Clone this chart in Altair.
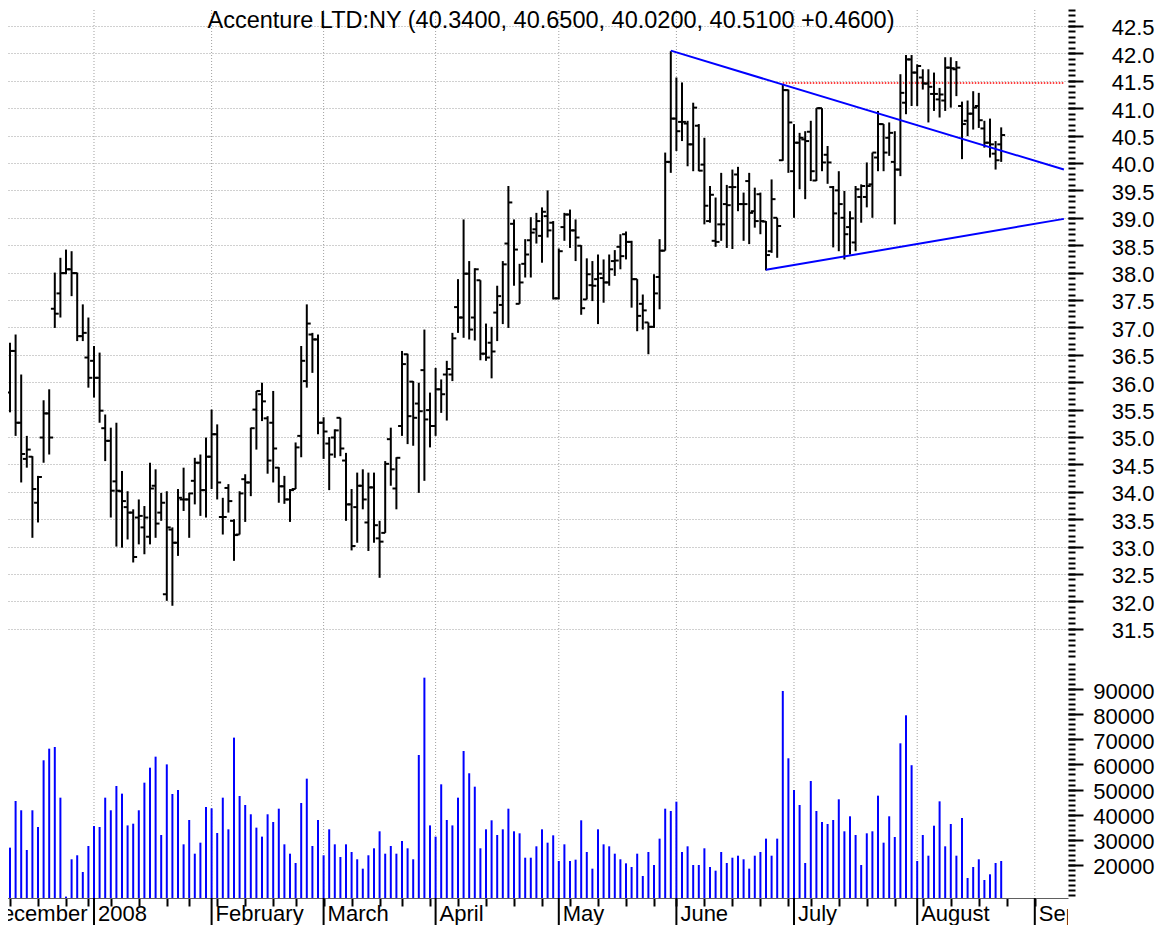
import altair as alt
import pandas as pd

FONT = "Liberation Sans"
GRID = "#a0a0a0"
BLUE = "#0000ff"
RED = "#ff0000"

TITLE = "Accenture LTD:NY (40.3400, 40.6500, 40.0200, 40.5100 +0.4600)"

# ---- daily OHLC, trading days from 10 Dec 2007 to 22 Aug 2008 ----
open_ = [
    35.81, 36.57, 35.26, 34.60, 34.64, 33.80, 34.99, 35.43, 37.34, 37.62,
    37.99, 38.06, 37.99, 36.84, 36.45, 36.39, 36.08, 35.16, 34.93, 34.19,
    34.01, 33.72, 33.62, 33.53, 33.35, 33.18, 34.11, 33.62, 32.13, 33.31,
    33.07, 33.86, 33.86, 34.20, 34.53, 34.03, 34.64, 35.05, 33.54, 34.07,
    33.47, 33.22, 34.23, 34.17, 35.50, 35.78, 35.34, 35.26, 34.44, 34.10,
    33.86, 34.05, 35.02, 36.02, 36.87, 36.78, 35.26, 34.88, 34.99, 35.35,
    34.57, 33.77, 33.72, 34.11, 33.44, 34.08, 33.15, 33.25, 34.96, 34.06,
    35.20, 36.51, 36.01, 35.61, 36.22, 35.49, 35.20, 35.87, 36.14, 36.14,
    37.37, 37.18, 37.98, 37.18, 37.86, 36.52, 36.72, 37.27, 37.41, 38.53,
    38.89, 37.43, 38.16, 38.59, 38.79, 38.67, 39.03, 38.91, 37.53, 38.83,
    39.06, 38.77, 38.49, 37.51, 37.77, 37.88, 37.90, 37.82, 38.21, 38.47,
    38.70, 38.56, 37.88, 37.43, 37.09, 37.01, 37.92, 38.40, 40.02, 40.81,
    40.75, 40.72, 40.34, 40.68, 39.97, 38.94, 38.58, 38.88, 39.25, 39.56,
    39.79, 39.25, 39.67, 39.12, 39.43, 38.93, 38.39, 39.00, 40.05, 41.33,
    39.85, 40.37, 40.43, 40.57, 39.68, 41.00, 40.15, 39.56, 39.50, 39.00,
    38.83, 38.55, 39.38, 39.38, 39.61, 40.10, 40.71, 40.46, 40.02, 39.88,
    41.10, 41.89, 41.65, 41.56, 41.45, 41.26, 41.16, 41.14, 41.74, 41.71,
    41.04, 40.77, 40.90, 41.04, 40.63, 40.37, 40.17, 40.34,
]
high = [
    36.72, 36.87, 36.14, 35.02, 34.65, 34.29, 35.67, 35.87, 38.00, 38.27,
    38.42, 38.39, 38.00, 37.42, 37.18, 36.66, 36.54, 35.41, 35.17, 35.26,
    34.38, 34.01, 33.68, 33.86, 33.74, 34.53, 34.41, 33.98, 34.01, 33.35,
    34.05, 34.44, 33.98, 34.62, 34.68, 34.99, 35.50, 35.23, 33.89, 34.14,
    33.50, 34.01, 34.32, 35.17, 35.84, 35.99, 35.38, 35.84, 34.45, 34.29,
    34.05, 34.90, 36.66, 37.42, 36.90, 36.87, 35.36, 35.00, 35.14, 35.35,
    34.71, 34.05, 34.35, 34.41, 34.35, 34.35, 33.47, 34.56, 35.17, 34.63,
    36.57, 36.52, 36.02, 35.99, 36.96, 35.81, 36.26, 36.05, 36.39, 36.90,
    37.88, 38.97, 38.21, 38.08, 37.86, 37.07, 37.01, 37.76, 38.21, 39.58,
    38.97, 38.16, 38.61, 39.01, 39.09, 39.19, 39.50, 38.94, 38.44, 39.09,
    39.15, 38.97, 38.50, 38.26, 38.21, 38.33, 38.24, 38.33, 38.41, 38.70,
    38.75, 38.58, 37.88, 37.60, 37.09, 37.97, 38.61, 40.19, 42.04, 41.56,
    41.47, 40.77, 41.10, 40.71, 40.46, 39.58, 39.37, 39.82, 39.60, 39.88,
    39.93, 39.46, 39.82, 39.55, 39.46, 38.94, 39.70, 39.00, 41.44, 41.34,
    40.71, 40.55, 40.58, 40.77, 41.00, 41.00, 40.31, 39.58, 39.85, 39.49,
    39.12, 39.58, 39.61, 40.01, 40.19, 40.95, 40.71, 40.74, 40.58, 41.62,
    41.97, 41.97, 41.80, 41.71, 41.71, 41.65, 41.37, 41.93, 41.93, 41.86,
    41.12, 41.14, 41.31, 41.28, 40.77, 40.81, 40.40, 40.65,
]
low = [
    35.45, 35.02, 34.17, 34.44, 33.16, 33.44, 34.53, 34.68, 36.99, 37.18,
    37.97, 37.57, 36.75, 36.75, 35.90, 35.72, 35.26, 34.56, 33.53, 33.00,
    32.98, 33.13, 32.71, 33.04, 32.86, 33.04, 33.16, 33.47, 32.01, 31.92,
    32.83, 33.65, 33.16, 33.77, 33.56, 33.53, 34.05, 33.86, 33.22, 33.62,
    32.74, 33.22, 33.45, 33.92, 34.77, 35.29, 34.33, 34.17, 33.80, 33.78,
    33.45, 34.05, 34.63, 35.90, 36.17, 35.05, 34.60, 34.03, 34.62, 34.65,
    33.47, 32.93, 33.07, 33.68, 32.92, 33.07, 32.43, 33.25, 34.11, 33.68,
    35.02, 34.87, 34.84, 33.98, 34.20, 34.81, 35.02, 35.44, 35.30, 36.02,
    36.90, 36.81, 36.78, 36.76, 36.40, 36.39, 36.07, 36.75, 37.06, 36.99,
    37.76, 37.43, 37.91, 37.91, 38.53, 38.18, 38.64, 37.51, 37.51, 38.58,
    38.45, 38.21, 37.23, 37.51, 37.48, 37.06, 37.45, 37.76, 37.94, 38.06,
    38.24, 37.36, 36.93, 36.96, 36.51, 36.99, 37.33, 38.40, 39.82, 40.22,
    40.40, 39.94, 39.85, 39.85, 38.88, 38.91, 38.47, 38.58, 38.45, 38.43,
    39.12, 38.58, 38.52, 38.82, 38.70, 38.04, 38.36, 38.27, 40.04, 39.82,
    39.00, 39.52, 39.34, 39.67, 39.67, 39.85, 39.62, 38.46, 38.39, 38.24,
    38.33, 38.39, 38.91, 39.19, 39.00, 39.85, 39.85, 40.13, 38.88, 39.76,
    40.89, 41.04, 41.04, 41.34, 40.74, 40.95, 40.83, 40.95, 41.01, 41.22,
    40.07, 40.49, 40.61, 40.64, 40.28, 40.10, 39.88, 40.02,
]
close = [
    36.57, 35.26, 34.69, 34.77, 34.05, 34.27, 35.43, 34.99, 37.25, 37.99,
    38.06, 37.99, 36.84, 36.90, 36.08, 36.08, 35.48, 34.93, 34.02, 34.02,
    33.83, 33.62, 32.81, 33.56, 33.53, 34.06, 33.42, 33.80, 33.35, 33.07,
    33.89, 33.86, 33.97, 34.53, 34.03, 34.64, 35.05, 34.17, 33.54, 33.83,
    33.21, 33.97, 34.17, 35.16, 35.84, 35.65, 34.57, 34.79, 34.10, 33.86,
    34.03, 34.81, 36.39, 37.07, 36.78, 35.26, 35.10, 34.68, 35.12, 34.79,
    33.77, 33.01, 34.11, 33.86, 34.08, 33.39, 33.09, 34.51, 34.41, 34.62,
    36.33, 35.38, 35.35, 35.47, 35.32, 35.20, 35.87, 35.78, 36.24, 36.80,
    37.18, 37.98, 36.96, 38.06, 36.52, 36.45, 36.56, 37.57, 38.15, 39.28,
    38.42, 37.82, 38.33, 38.73, 38.94, 39.11, 38.77, 37.53, 38.39, 39.06,
    38.77, 38.64, 37.35, 37.97, 37.76, 37.98, 37.82, 38.06, 38.22, 38.30,
    38.56, 37.88, 37.21, 37.31, 37.01, 37.62, 38.40, 40.02, 40.81, 40.58,
    40.75, 40.34, 41.01, 39.86, 39.22, 39.42, 38.56, 38.88, 39.23, 39.56,
    39.25, 39.25, 39.09, 38.94, 38.94, 38.32, 39.34, 38.85, 41.33, 40.74,
    40.37, 40.46, 40.40, 39.85, 41.00, 40.01, 40.01, 39.08, 39.25, 38.70,
    38.99, 39.52, 39.58, 39.58, 40.19, 40.71, 40.19, 40.55, 39.88, 41.28,
    41.89, 41.65, 41.77, 41.45, 41.39, 41.26, 41.25, 41.74, 41.73, 41.74,
    40.71, 40.90, 41.01, 40.78, 40.37, 40.34, 40.05, 40.51,
]
volume = [
    26900, 45460, 41760, 25970, 41760, 35120, 61650, 66270, 66940, 46780,
    7430, 22270, 23860, 17210, 27560, 35510, 35120, 46780, 41760, 51430,
    48380, 35750, 36430, 41760, 52750, 58710, 63090, 31930, 60020, 48240,
    49830, 28220, 37900, 24500, 28880, 43070, 42540, 32730, 46780, 34190,
    70660, 47450, 43870, 40170, 34860, 31280, 40170, 37110, 42400, 28220,
    24500, 20800, 44660, 54340, 27560, 37900, 23860, 34190, 28220, 23180,
    28220, 25170, 22270, 18540, 23860, 26640, 33400, 24500, 27560, 24500,
    29550, 26640, 22270, 63760, 94510, 35750, 31280, 52090, 37900, 35750,
    46780, 65350, 56480, 51150, 26640, 34190, 37770, 31930, 34190, 42400,
    33400, 32600, 22900, 22900, 27430, 34190, 28880, 31800, 21590, 28220,
    21590, 22120, 37770, 25170, 18540, 34190, 28220, 27430, 24500, 22270,
    20660, 19200, 24500, 15620, 25170, 20000, 30480, 42400, 41480, 45190,
    25170, 27430, 20000, 20000, 26640, 19200, 17740, 25170, 20800, 22900,
    23700, 22270, 18540, 23700, 25170, 30480, 23700, 30480, 89220, 62440,
    49830, 43870, 20800, 53420, 41480, 37110, 36310, 37900, 46130, 33400,
    39370, 31930, 20000, 32600, 33400, 47570, 28880, 39370, 31140, 68400,
    79540, 59690, 21590, 31930, 23700, 35630, 45320, 27430, 36310, 23700,
    38690, 14830, 19200, 22270, 14030, 16300, 20800, 21590,
]

# ---- time axis (trading-day index of first session of each month) ----
month_start = [-5, 15, 36, 56, 76, 98, 119, 140, 162, 183]
month_label = ["December", "2008", "February", "March", "April", "May",
               "June", "July", "August", "September"]
week_ticks = [0, 5, 10, 14, 18, 23, 28, 32, 37, 42, 47, 51, 56, 61, 66, 70,
              75, 80, 85, 90, 95, 100, 105, 110, 115, 119, 124, 129, 134,
              139, 143, 148, 153, 158, 163, 168, 173, 178, 183]

price_labels = [31.5, 32.0, 32.5, 33.0, 33.5, 34.0, 34.5, 35.0, 35.5, 36.0,
                36.5, 37.0, 37.5, 38.0, 38.5, 39.0, 39.5, 40.0, 40.5, 41.0,
                41.5, 42.0, 42.5]
price_minor = [round(30.9 + 0.1 * k, 1) for k in range(121)]
vol_labels = [20000, 30000, 40000, 50000, 60000, 70000, 80000, 90000]
vol_minor = list(range(8000, 102000, 2000))

# ---- drawn trend lines (index, price) ----
upper_x = [118, 188.2]
upper_y = [42.05, 39.88]
lower_x = [135, 188.2]
lower_y = [38.05, 38.98]
resist_x = [138, 188.2]
resist_y = [41.46, 41.46]

VOL_FLOOR = 6870
X_DOMAIN = [-1.607, 188.93]
P_DOMAIN = [30.912, 42.956]
V_DOMAIN = [VOL_FLOOR, 101140]
W = 1067
TICK = 0.7

df = pd.DataFrame({"i": list(range(len(close))), "open": open_, "high": high,
                   "low": low, "close": close, "volume": volume})
df["xo"] = df["i"] - TICK
df["xc"] = df["i"] + TICK
df["vbase"] = VOL_FLOOR
months = pd.DataFrame({"m": month_start, "label": month_label})
tlines = pd.DataFrame({"x": upper_x + lower_x, "y": upper_y + lower_y,
                       "name": ["upper"] * 2 + ["lower"] * 2})
resist = pd.DataFrame({"x": resist_x, "y": resist_y})

xs = alt.Scale(domain=X_DOMAIN, nice=False, zero=False)
ps = alt.Scale(domain=P_DOMAIN, nice=False, zero=False)
vs = alt.Scale(domain=V_DOMAIN, nice=False, zero=False)


def major_axis(values, fmt, grid):
    kw = dict(orient="right", values=values, format=fmt, title=None, domain=False,
              tickSize=15, tickWidth=2, tickColor="black",
              labelFont=FONT, labelFontSize=22, labelColor="black",
              labelAlign="right", labelBaseline="middle", labelPadding=71,
              labelOverlap=False, labelFlush=False, labelOffset=2, grid=grid)
    if grid:
        kw.update(gridColor=GRID, gridDash=[1, 2], gridWidth=1)
    return alt.Axis(**kw)


def minor_axis(values):
    return alt.Axis(orient="right", values=values, labels=False, title=None,
                    domain=False, tickSize=7, tickWidth=2, tickColor="black",
                    grid=False)


# ---------------- price panel ----------------
vgrid_p = alt.Chart(months).mark_rule(color=GRID, strokeDash=[1, 2], strokeWidth=1, clip=True).encode(
    x=alt.X("m:Q", scale=xs, axis=None))
minor_p = alt.Chart(df).mark_rule(opacity=0).encode(
    x=alt.X("i:Q", scale=xs, axis=None),
    y=alt.Y("low:Q", scale=ps, axis=minor_axis(price_minor)),
    y2=alt.Y2("high"))
hl = alt.Chart(df).mark_rule(color="black", strokeWidth=2).encode(
    x=alt.X("i:Q", scale=xs, axis=None),
    y=alt.Y("low:Q", scale=ps, axis=major_axis(price_labels, ".1f", True)),
    y2=alt.Y2("high"))
op = alt.Chart(df).mark_rule(color="black", strokeWidth=2).encode(
    x=alt.X("xo:Q", scale=xs, axis=None), x2=alt.X2("i"),
    y=alt.Y("open:Q", scale=ps, axis=None))
cl = alt.Chart(df).mark_rule(color="black", strokeWidth=2).encode(
    x=alt.X("i:Q", scale=xs, axis=None), x2=alt.X2("xc"),
    y=alt.Y("close:Q", scale=ps, axis=None))
tl = alt.Chart(tlines).mark_line(color=BLUE, strokeWidth=2, clip=True).encode(
    x=alt.X("x:Q", scale=xs, axis=None), y=alt.Y("y:Q", scale=ps, axis=None),
    detail="name:N")
rl = alt.Chart(resist).mark_line(color=RED, strokeWidth=1.5, strokeDash=[1.5, 1.5], clip=True).encode(
    x=alt.X("x:Q", scale=xs, axis=None), y=alt.Y("y:Q", scale=ps, axis=None))
ttl = alt.Chart(pd.DataFrame({"t": [TITLE]})).mark_text(
    font=FONT, fontSize=23.5, color="black", align="center", baseline="alphabetic").encode(
    x=alt.value(550), y=alt.value(27), text="t:N")

price = alt.layer(vgrid_p, rl, minor_p, hl, op, cl, tl, ttl).resolve_axis(
    y="independent").properties(width=W, height=660)

# ---------------- volume panel ----------------
vx_axis = alt.Axis(orient="bottom", values=week_ticks, labels=False, title=None,
                   tickSize=8, tickWidth=2, tickColor="black", domain=True,
                   domainColor="#606060", domainWidth=1, grid=False)
vgrid_v = alt.Chart(months).mark_rule(color=GRID, strokeDash=[1, 2], strokeWidth=1, clip=True).encode(
    x=alt.X("m:Q", scale=xs, axis=vx_axis))
minor_v = alt.Chart(df).mark_rule(opacity=0).encode(
    x=alt.X("i:Q", scale=xs, axis=vx_axis),
    y=alt.Y("volume:Q", scale=vs, axis=minor_axis(vol_minor)),
    y2=alt.Y2("vbase"))
vol = alt.Chart(df).mark_rule(color=BLUE, strokeWidth=2).encode(
    x=alt.X("i:Q", scale=xs, axis=vx_axis),
    y=alt.Y("volume:Q", scale=vs, axis=major_axis(vol_labels, "d", False)),
    y2=alt.Y2("vbase"))
volume_chart = alt.layer(vgrid_v, minor_v, vol).resolve_axis(
    y="independent").properties(width=W, height=237)

# ---------------- month labels strip ----------------
mrule = alt.Chart(months).mark_rule(color="black", strokeWidth=2, clip=True).encode(
    x=alt.X("m:Q", scale=xs, axis=None))
mtext = alt.Chart(months).mark_text(
    font=FONT, fontSize=22, color="black", align="left", baseline="alphabetic",
    dx=4, clip=True).encode(
    x=alt.X("m:Q", scale=xs, axis=None), y=alt.value(22.5), text="label:N")
labels = alt.layer(mrule, mtext).properties(width=W, height=27)

chart = alt.vconcat(price, volume_chart, labels, spacing=0, bounds="flush").properties(
    padding={"left": -8, "top": -8, "right": 0, "bottom": 0}
).configure_view(stroke="transparent")

chart.save("out.html", embed_options={"renderer": "svg", "actions": False})
